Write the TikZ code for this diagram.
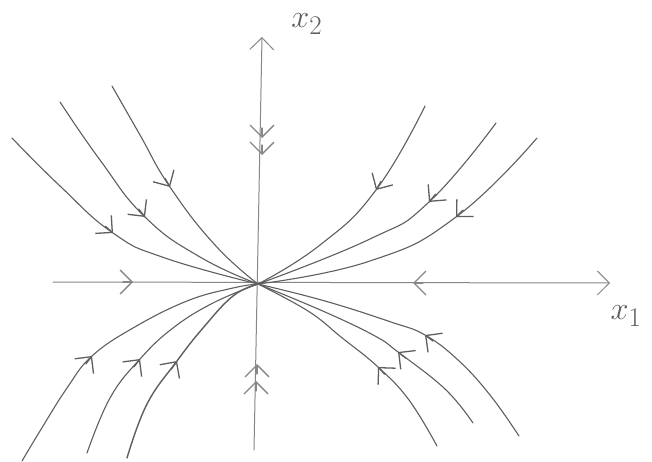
\documentclass[tikz,border=0pt]{standalone}
\usetikzlibrary{arrows.meta,calc}
\definecolor{pencil}{RGB}{95,95,95}
\definecolor{pencilL}{RGB}{135,135,135}
\begin{document}
\begin{tikzpicture}[x=1pt,y=-1pt,line cap=round,line join=round,
  traj/.style={draw=pencil,line width=1.1pt},
  axisline/.style={draw=pencilL,line width=1pt},
  barb/.style={-{Straight Barb[length=12pt,width=24pt]}},
  vtip/.style={barb,draw=pencil,line width=1.3pt},
  atip/.style={barb,draw=pencilL,line width=1.3pt},
  lbl/.style={text=pencil,font=\Huge}]
\useasboundingbox (0,0) rectangle (652,462);
\fill[white] (0,0) rectangle (652,462);
\coordinate (O) at (258,284);

% axes
\coordinate (x2top) at (262,37);
\coordinate (x2bot) at (254,450);
\coordinate (x1left) at (53,282);
\coordinate (x1right) at (610,283);
\draw[axisline,barb] (x2bot) -- (x2top);
\draw[axisline,barb] (x1left) -- (x1right);
\node[lbl] (lx1) at (626,316) {\scalebox{1.3}{$x_1$}};
\node[lbl] (lx2) at (307,24) {\scalebox{1.3}{$x_2$}};

% arrows on axes
\coordinate (h1) at (133,282);
\coordinate (h2) at (413,283);
\draw[atip] ($(h1)+(-10,0)$) -- (h1);
\draw[atip] ($(h2)+(10,0)$) -- (h2);
\coordinate (v1) at (262,138);
\coordinate (v2) at (262,155);
\draw[atip] ($(v1)+(0,-10)$) -- (v1);
\draw[atip] ($(v2)+(0,-10)$) -- (v2);
\coordinate (v3) at (257,364);
\coordinate (v4) at (256,381);
\draw[atip] ($(v3)+(0,10)$) -- (v3);
\draw[atip] ($(v4)+(0,10)$) -- (v4);

% upper left
\coordinate (ula) at (113,233);
\coordinate (ulb) at (145,217);
\coordinate (ulc) at (170,187);
\draw[traj] plot[smooth,tension=0.8] coordinates {(12,138) (60,186) (ula) (165,258) (O)};
\draw[traj] plot[smooth,tension=0.8] coordinates {(60,102) (100,160) (ulb) (200,257) (O)};
\draw[traj] plot[smooth,tension=0.8] coordinates {(112,86) (140,135) (ulc) (215,245) (O)};
\draw[vtip] ($(ula)!10pt!(60,186)$) -- (ula);
\draw[vtip] ($(ulb)!10pt!(100,160)$) -- (ulb);
\draw[vtip] ($(ulc)!10pt!(140,135)$) -- (ulc);

% upper right
\coordinate (ura) at (376,190);
\coordinate (urb) at (429,202);
\coordinate (urc) at (456,217);
\draw[traj] plot[smooth,tension=0.8] coordinates {(425,106) (ura) (320,245) (O)};
\draw[traj] plot[smooth,tension=0.8] coordinates {(496,123) (urb) (370,239) (O)};
\draw[traj] plot[smooth,tension=0.8] coordinates {(537,138) (urc) (370,261) (O)};
\draw[vtip] ($(ura)!10pt!(425,106)$) -- (ura);
\draw[vtip] ($(urb)!10pt!(496,123)$) -- (urb);
\draw[vtip] ($(urc)!10pt!(537,138)$) -- (urc);

% lower left
\coordinate (lla) at (92,356);
\coordinate (llb) at (140,359);
\coordinate (llc) at (177,361);
\draw[traj] plot[smooth,tension=0.7] coordinates {(22,461) (40,431) (67,388) (lla) (133,328) (187,301) (233,288) (O)};
\draw[traj] plot[smooth,tension=0.7] coordinates {(87,453) (110,398) (llb) (173,328) (213,303) (O)};
\draw[traj,line width=1.4pt] plot[smooth,tension=0.7] coordinates {(127,458) (147,404) (llc) (203,328) (233,296) (O)};
\draw[vtip] ($(lla)!10pt!(67,388)$) -- (lla);
\draw[vtip] ($(llb)!10pt!(110,398)$) -- (llb);
\draw[vtip] ($(llc)!10pt!(147,404)$) -- (llc);

% lower right
\coordinate (lra) at (378,367);
\coordinate (lrb) at (398,352);
\coordinate (lrc) at (425,335);
\draw[traj] plot[smooth,tension=0.7] coordinates {(O) (308,311) (341,337) (lra) (409,400) (437,446)};
\draw[traj] plot[smooth,tension=0.7] coordinates {(O) (325,312) (375,336) (lrb) (445,389) (473,423)};
\draw[traj] plot[smooth,tension=0.7] coordinates {(O) (325,301) (391,322) (lrc) (458,360) (490,395) (519,436)};
\draw[vtip] ($(lra)!10pt!(409,400)$) -- (lra);
\draw[vtip] ($(lrb)!10pt!(445,389)$) -- (lrb);
\draw[vtip] ($(lrc)!10pt!(458,360)$) -- (lrc);
\end{tikzpicture}
\end{document}
